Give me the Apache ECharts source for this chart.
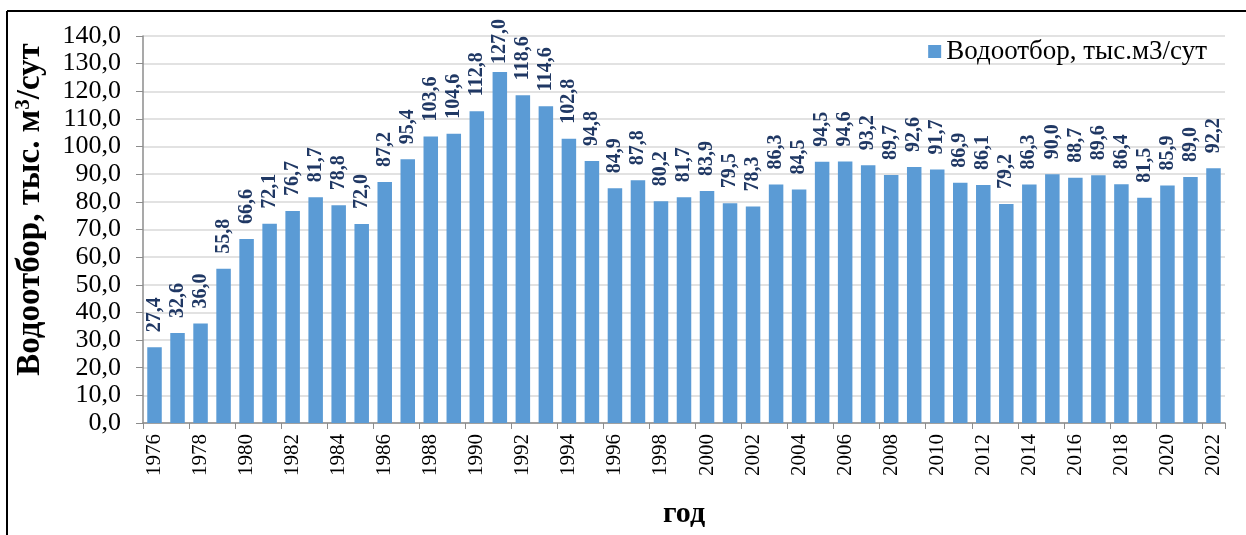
<!DOCTYPE html>
<html><head><meta charset="utf-8">
<script src="https://cdn.jsdelivr.net/npm/echarts@6/dist/echarts.min.js"></script>
<style>html,body{margin:0;padding:0;background:#fff}#c{width:1246px;height:535px}</style>
</head><body><div id="c"></div>
<script>
const years = ['1976','1977','1978','1979','1980','1981','1982','1983','1984','1985','1986','1987','1988','1989','1990','1991','1992','1993','1994','1995','1996','1997','1998','1999','2000','2001','2002','2003','2004','2005','2006','2007','2008','2009','2010','2011','2012','2013','2014','2015','2016','2017','2018','2019','2020','2021','2022'];
const values = [27.4,32.6,36.0,55.8,66.6,72.1,76.7,81.7,78.8,72.0,87.2,95.4,103.6,104.6,112.8,127.0,118.6,114.6,102.8,94.8,84.9,87.8,80.2,81.7,83.9,79.5,78.3,86.3,84.5,94.5,94.6,93.2,89.7,92.6,91.7,86.9,86.1,79.2,86.3,90.0,88.7,89.6,86.4,81.5,85.9,89.0,92.2];
const seriesName = 'Водоотбор, тыс.м3/сут';
const font = '"Liberation Serif","Times New Roman",serif';
const fmt = v => v.toFixed(1).replace('.', ',');
const maxV = Math.max(...values);
// the highest label is pushed down to stay inside the chart frame (as in the original)
const barData = values.map(v => v === maxV ? {value:v, label:{distance:8}} : v);
const chart = echarts.init(document.getElementById('c'), null, {renderer:'canvas'});
chart.setOption({
  animation:false,
  backgroundColor:'#fff',
  textStyle:{fontFamily:font},
  graphic:[
    {type:'line', shape:{x1:7,y1:11,x2:1246,y2:11}, style:{stroke:'#000',lineWidth:2}},
    {type:'line', shape:{x1:7,y1:11,x2:7,y2:535}, style:{stroke:'#000',lineWidth:2}}
  ],
  legend:{
    right:34, top:33, itemWidth:13, itemHeight:13, itemGap:7,
    icon:'rect',
    textStyle:{fontFamily:font, fontSize:27, color:'#000'},
    data:[seriesName]
  },
  grid:{left:143, right:21, top:36, bottom:112, containLabel:false},
  xAxis:{
    type:'category', data:years,
    name:'год', nameLocation:'middle', nameGap:76,
    nameTextStyle:{fontFamily:font, fontSize:30, fontWeight:'bold', color:'#000'},
    axisLine:{lineStyle:{color:'#8c8c8c', width:1.5}},
    axisTick:{show:true, alignWithLabel:false, length:6, lineStyle:{color:'#8c8c8c'}},
    axisLabel:{interval:1, rotate:90, fontFamily:font, fontSize:21, color:'#000', margin:11}
  },
  yAxis:{
    type:'value', min:0, max:140, interval:10,
    name:'{a|Водоотбор, тыс. м}{s|3}{a|/сут}', nameLocation:'middle', nameGap:95, nameRotate:90,
    nameTextStyle:{padding:[0,0,0,40], rich:{
      a:{fontFamily:font, fontSize:33, fontWeight:'bold', color:'#000'},
      s:{fontFamily:font, fontSize:21, fontWeight:'bold', color:'#000', verticalAlign:'top', padding:[0,0,14,0]}
    }},
    axisLine:{show:true, lineStyle:{color:'#8c8c8c', width:1.5}},
    axisTick:{show:true, length:7, lineStyle:{color:'#8c8c8c'}},
    splitLine:{lineStyle:{color:'#d9d9d9', width:1.5}},
    axisLabel:{formatter:v=>fmt(v), fontFamily:font, fontSize:26, color:'#000', margin:22}
  },
  series:[{
    name:seriesName, type:'bar', data:barData, barWidth:'63%',
    itemStyle:{color:'#5B9BD5'},
    label:{show:true, position:'top', rotate:90, align:'left', verticalAlign:'middle', distance:15,
      formatter:p=>fmt(p.value), fontFamily:font, fontSize:20, fontWeight:'bold', color:'#203864'}
  }]
});
</script></body></html>
